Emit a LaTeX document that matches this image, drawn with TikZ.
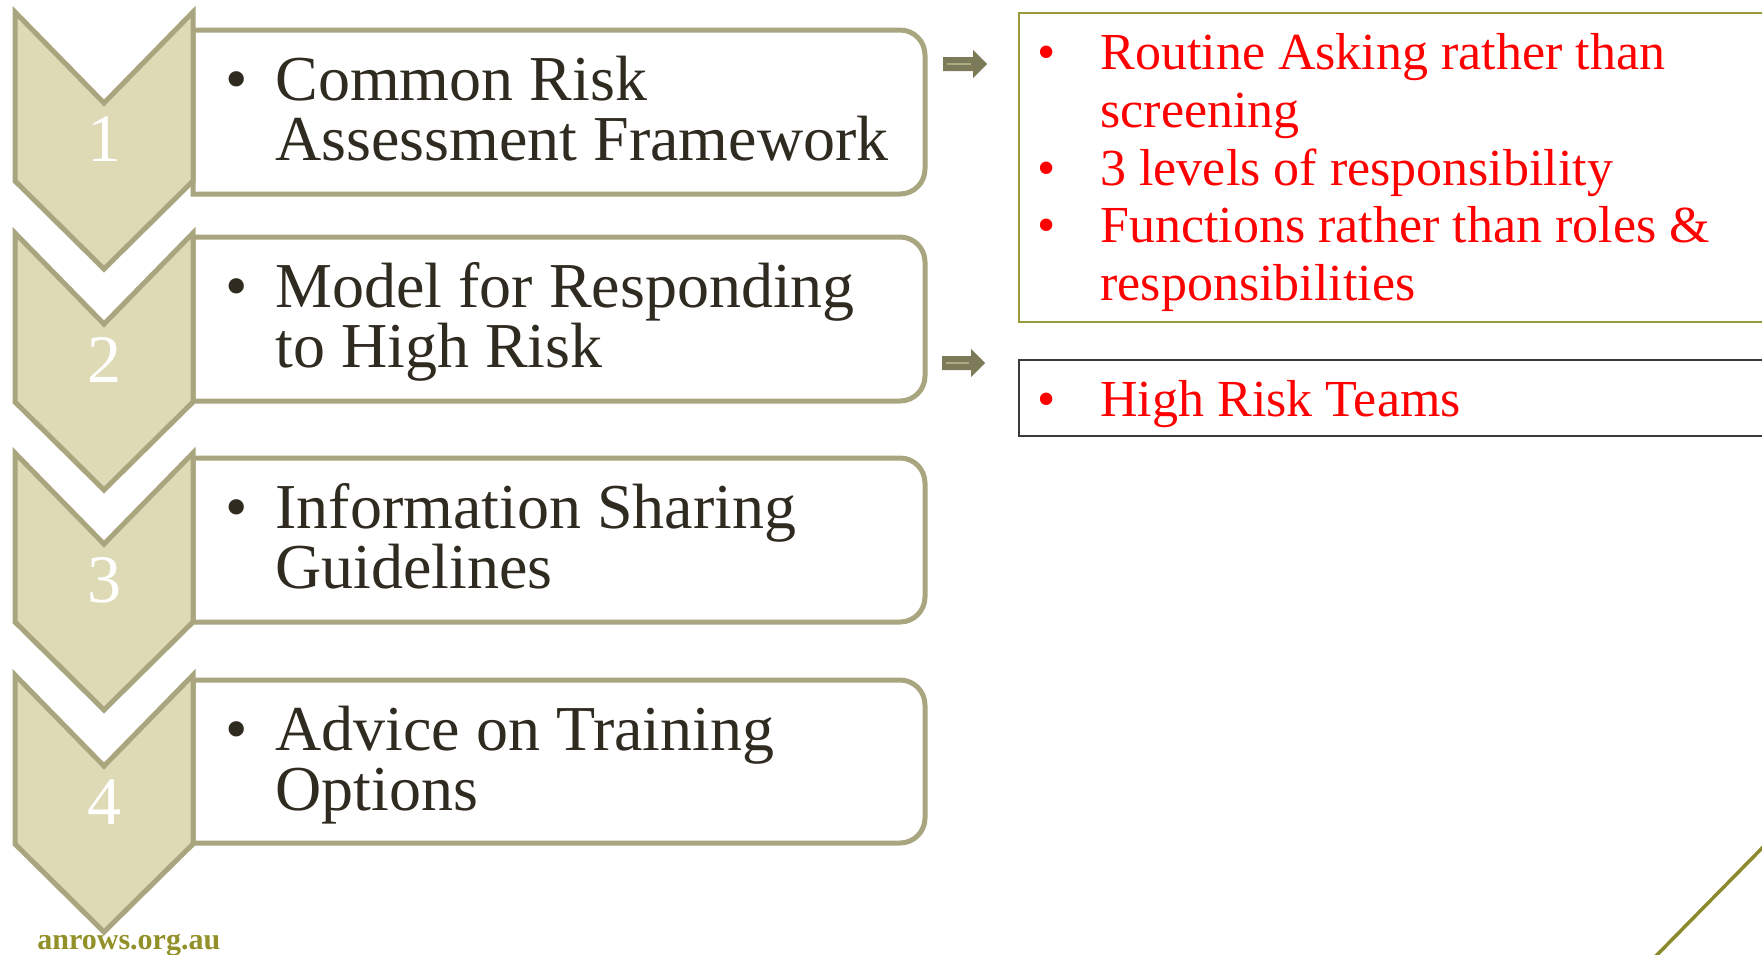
\documentclass[tikz,border=0pt]{standalone}
\usepackage{fontspec}
\setmainfont{Liberation Serif}
\definecolor{chevfill}{HTML}{DEDAB6}
\definecolor{chevline}{HTML}{A9A57F}
\definecolor{darktext}{HTML}{2F2B20}
\definecolor{arrowcol}{HTML}{7D7A59}
\definecolor{arrowhl}{HTML}{ACA985}
\definecolor{redboxline}{HTML}{9A9A3A}
\definecolor{blueboxline}{HTML}{3A3A3A}
\definecolor{olivetext}{HTML}{929028}
\definecolor{diagline}{HTML}{8C8A2C}
\definecolor{redtext}{HTML}{FF0000}
\tikzset{
  chevst/.style={fill=chevfill,draw=chevline,line width=2.5pt,line join=miter},
  boxst/.style={fill=white,draw=chevline,line width=2.5pt},
  numst/.style={text=white,font=\fontsize{34}{34}\selectfont,inner sep=0pt,anchor=center},
  itemst/.style={text=darktext,font=\fontsize{32}{30}\selectfont,inner sep=0pt,anchor=base west},
  bulst/.style={text=darktext,font=\fontsize{32}{30}\selectfont,inner sep=0pt,anchor=base},
  redst/.style={text=redtext,font=\fontsize{26}{28}\selectfont,inner sep=0pt,anchor=base west},
  redbul/.style={text=redtext,font=\fontsize{26}{28}\selectfont,inner sep=0pt,anchor=base},
  arrst/.style={fill=arrowcol,draw=none},
  arrhl/.style={draw=arrowhl,line width=0.8pt},
}
\begin{document}
\begin{tikzpicture}[x=0.5pt,y=-0.5pt]
\useasboundingbox (0,0) rectangle (1762,954);
\clip (0,0) rectangle (1762,954);
% boxes
\draw[boxst] (193,30) -- (900,30) to[out=0,in=90] (925,55) -- (925,169) to[out=-90,in=0] (900,194) -- (193,194) -- cycle;
\draw[boxst] (193,237) -- (900,237) to[out=0,in=90] (925,262) -- (925,376) to[out=-90,in=0] (900,401) -- (193,401) -- cycle;
\draw[boxst] (193,458) -- (900,458) to[out=0,in=90] (925,483) -- (925,597) to[out=-90,in=0] (900,622) -- (193,622) -- cycle;
\draw[boxst] (193,680) -- (900,680) to[out=0,in=90] (925,705) -- (925,818) to[out=-90,in=0] (900,843) -- (193,843) -- cycle;
% chevrons
\foreach \t in {12,233,453,675}{
  \draw[chevst] (15,\t) -- (104,\t+91) -- (193,\t) -- (193,\t+169) -- (104,\t+257) -- (15,\t+169) -- cycle;
}
\node[numst] (n1) at (104,139) {1};
\node[numst] (n2) at (104,360) {2};
\node[numst] (n3) at (104,580) {3};
\node[numst] (n4) at (104,802) {4};
% box texts
\node[bulst] (b1) at (237,100) {\textbullet};
\node[itemst] (t1a) at (275,100) {Common Risk};
\node[itemst] (t1b) at (275,160) {Assessment Framework};
\node[bulst] (b2) at (237,307) {\textbullet};
\node[itemst] (t2a) at (275,307) {Model for Responding};
\node[itemst] (t2b) at (275,367) {to High Risk};
\node[bulst] (b3) at (237,528) {\textbullet};
\node[itemst] (t3a) at (275,528) {Information Sharing};
\node[itemst] (t3b) at (275,588) {Guidelines};
\node[bulst] (b4) at (237,750) {\textbullet};
\node[itemst] (t4a) at (275,750) {Advice on Training};
\node[itemst] (t4b) at (275,810) {Options};
% block arrows
\fill[arrst] (943,57) -- (973,57) -- (973,50) -- (987,64) -- (973,78) -- (973,71) -- (943,71) -- cycle;
\draw[arrhl] (947,64) -- (971,64);
\fill[arrst] (942,356) -- (971,356) -- (971,349) -- (985,363) -- (971,377) -- (971,370) -- (942,370) -- cycle;
\draw[arrhl] (946,363) -- (969,363);
% red boxes
\draw[draw=redboxline,line width=1pt] (1019,13) rectangle (1780,322);
\draw[draw=blueboxline,line width=1.2pt] (1019,360) rectangle (1780,436);
\node[redbul] (r1) at (1047,69) {\textbullet};
\node[redst] (r1a) at (1100,69) {Routine Asking rather than};
\node[redst] (r1b) at (1100,127) {screening};
\node[redbul] (r2) at (1047,185) {\textbullet};
\node[redst] (r2a) at (1100,185) {3 levels of responsibility};
\node[redbul] (r3) at (1047,242) {\textbullet};
\node[redst] (r3a) at (1100,242) {Functions rather than roles \&};
\node[redst] (r3b) at (1100,300) {responsibilities};
\node[redbul] (r4) at (1047,416) {\textbullet};
\node[redst] (r4a) at (1100,416) {High Risk Teams};
% footer
\node[text=olivetext,font=\fontsize{15}{15}\selectfont\bfseries,inner sep=0pt,anchor=base west] (logo) at (37,949) {anrows.org.au};
\draw[diagline,line width=1.75pt] (1650,962) -- (1770,840);
\end{tikzpicture}
\end{document}
